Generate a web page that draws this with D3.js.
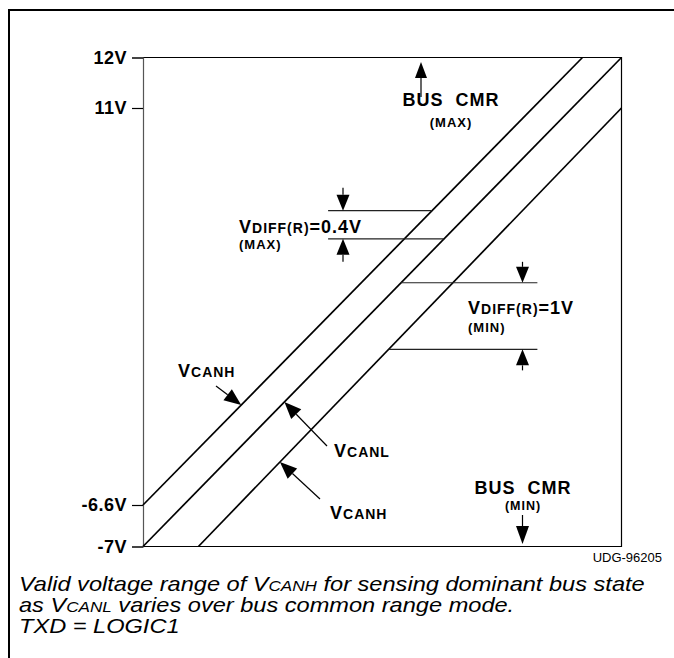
<!DOCTYPE html>
<html>
<head>
<meta charset="UTF-8">
<title>VCANH valid range</title>
<script src="https://d3js.org/d3.v7.min.js"></script>
<style>
	body { margin: 0; background: #fff; }
	text { font-family: "Liberation Sans", Arial, sans-serif; fill: #000; }
	.bold { font-weight: bold; letter-spacing: 1px; }
</style>
</head>
<body>
	<div id="svg-container"></div>
	<script type="text/javascript">

		// tick values and labels on the voltage axis (axis is not to scale)
		let tickValues = [12, 11, -6.6, -7];
		let tickLabels = ["12V", "11V", "-6.6V", "-7V"];

		// the three bus lines, as [VCANL, V] end points
		let lineNames = ["VCANH max", "VCANL", "VCANH min"];
		let lineStart = [[-7, -6.6], [-7, -7], [-4.8, -7]];
		let lineEnd = [[10.45, 12], [12, 12], [12, 11]];

		// horizontal reference levels for the differential voltages
		let diffLevels = [6.45, 5.2, 3.25, 0.3];
		let diffFrom = [0.35, 0.35, null, null];   // null = starts at a line
		let diffTo = [null, null, 8.66, 8.66];     // null = ends at a line
		let diffLine = [0, 1, 1, 2];               // which bus line it meets

		let width = 674, height = 658;

		let svg = d3.select("#svg-container")
			.append("svg")
			.attr("width", width)
			.attr("height", height);

		let x = d3.scaleLinear().domain([-7, 12]).range([143, 621.5]);
		let y = d3.scaleLinear().domain([-7, -6.6, 11, 12]).range([546.5, 505, 108, 57.5]);

		// outer frame (top and left only)
		svg.append("path")
			.attr("d", "M8,10H674M9,10V658")
			.attr("fill", "none")
			.attr("stroke", "#000")
			.attr("stroke-width", 2);

		// plot box
		svg.append("path")
			.attr("d", `M${x(-7)},${y(12)}H${x(12)}V${y(-7)}H${x(-7)}`)
			.attr("fill", "none")
			.attr("stroke", "#000")
			.attr("stroke-width", 1.2);

		// left axis with ticks
		let axis = d3.axisLeft(y)
			.tickValues(tickValues)
			.tickFormat((d, i) => tickLabels[i])
			.tickSize(11)
			.tickPadding(5);

		let gAxis = svg.append("g")
			.attr("transform", `translate(${x(-7)},0)`)
			.call(axis);
		gAxis.select(".domain").attr("stroke", "#555").attr("stroke-width", 1.2);
		gAxis.selectAll(".tick line").attr("stroke", "#000").attr("stroke-width", 1.2);
		gAxis.selectAll(".tick text")
			.style("font-family", "'Liberation Sans', Arial, sans-serif")
			.style("font-weight", "bold")
			.style("font-size", "18px")
			.style("letter-spacing", "0.5px")
			.attr("fill", "#000");

		// bus lines
		let lines = lineNames.map((n, i) => ({ name: n, a: lineStart[i], b: lineEnd[i] }));
		svg.selectAll("line.bus")
			.data(lines)
			.join("line")
			.attr("class", "bus")
			.attr("x1", d => x(d.a[0]))
			.attr("y1", d => y(d.a[1]))
			.attr("x2", d => x(d.b[0]))
			.attr("y2", d => y(d.b[1]))
			.attr("stroke", "#000")
			.attr("stroke-width", 1.7);

		// pixel x of a bus line at pixel height py
		function xOnLine(l, py) {
			let x1 = x(l.a[0]), y1 = y(l.a[1]), x2 = x(l.b[0]), y2 = y(l.b[1]);
			return x1 + (py - y1) * (x2 - x1) / (y2 - y1);
		}

		// reference levels
		let levels = diffLevels.map((v, i) => {
			let py = y(v);
			let xa = diffFrom[i] === null ? xOnLine(lines[diffLine[i]], py) : x(diffFrom[i]);
			let xb = diffTo[i] === null ? xOnLine(lines[diffLine[i]], py) : x(diffTo[i]);
			return { py: py, xa: xa, xb: xb };
		});
		svg.selectAll("line.level")
			.data(levels)
			.join("line")
			.attr("class", "level")
			.attr("x1", d => d.xa)
			.attr("x2", d => d.xb)
			.attr("y1", d => d.py)
			.attr("y2", d => d.py)
			.attr("stroke", "#222")
			.attr("stroke-width", 1.1);

		// arrow with filled head at (x2,y2)
		function arrow(x1, y1, x2, y2, len, w) {
			len = len || 16; w = w || 6.5;
			let dx = x2 - x1, dy = y2 - y1, d = Math.hypot(dx, dy);
			let ux = dx / d, uy = dy / d;
			let bx = x2 - ux * len, by = y2 - uy * len;
			svg.append("line")
				.attr("x1", x1).attr("y1", y1)
				.attr("x2", bx).attr("y2", by)
				.attr("stroke", "#000").attr("stroke-width", 1.2);
			svg.append("path")
				.attr("d", `M${x2},${y2}L${bx - uy * w},${by + ux * w}L${bx + uy * w},${by - ux * w}Z`)
				.attr("fill", "#000");
		}

		// dimension arrows
		let axUp = 343, axLo = 522.5;
		arrow(axUp, levels[0].py - 23, axUp, levels[0].py);
		arrow(axUp, levels[1].py + 23, axUp, levels[1].py);
		arrow(axLo, levels[2].py - 21, axLo, levels[2].py);
		arrow(axLo, levels[3].py + 21, axLo, levels[3].py);

		// small-caps style label: [text, size] pieces
		function label(px, py, parts, anchor) {
			let t = svg.append("text")
				.attr("x", px).attr("y", py)
				.attr("class", "bold")
				.attr("text-anchor", anchor || "start");
			parts.forEach(p => t.append("tspan").attr("font-size", p[1]).text(p[0]));
			return t;
		}

		label(239, 233, [["V", 18], ["DIFF(R)", 14], ["=0.4V", 18]]);
		label(239, 249, [["(MAX)", 13]]);
		label(468, 314, [["V", 18], ["DIFF(R)", 14], ["=1V", 18]]);
		label(468, 332, [["(MIN)", 13]]);

		// BUS CMR max / min
		label(451, 106, [["BUS  CMR", 18]], "middle").attr("xml:space", "preserve");
		label(451, 127, [["(MAX)", 13]], "middle");
		arrow(421, 97, 421, 62, 16, 6);

		label(523, 494, [["BUS  CMR", 18]], "middle").attr("xml:space", "preserve");
		label(523, 510, [["(MIN)", 12.5]], "middle");
		arrow(522.5, 515, 522.5, 544, 18, 6.5);

		// line labels
		label(178, 377, [["V", 18], ["CANH", 14]]);
		arrow(216, 386, xOnLine(lines[0], 405), 405, 17, 7);

		label(334, 457, [["V", 18], ["CANL", 14]]);
		arrow(327, 446, xOnLine(lines[1], 402), 402, 17, 7);

		label(330, 519, [["V", 18], ["CANH", 14]]);
		arrow(320, 499, xOnLine(lines[2], 462), 462, 17, 7);

		// figure id
		svg.append("text")
			.attr("x", 662).attr("y", 562)
			.attr("text-anchor", "end")
			.attr("font-size", 13)
			.text("UDG-96205");

		// caption, stretched sideways so the first line matches the original width
		let captionLines = [
			[["Valid voltage range of V", 20], ["CANH", 14.5], [" for sensing dominant bus state", 20]],
			[["as V", 20], ["CANL", 14.5], [" varies over bus common range mode.", 20]],
			[["TXD = LOGIC1", 20]]
		];
		let sx = 1;
		captionLines.forEach((parts, i) => {
			let g = svg.append("g");
			let t = g.append("text")
				.attr("x", 0).attr("y", 0)
				.attr("font-style", "italic");
			parts.forEach(p => t.append("tspan").attr("font-size", p[1]).text(p[0]));
			if (i === 0) sx = 626 / t.node().getComputedTextLength();
			g.attr("transform", `translate(19,${591 + i * 21}) scale(${sx},1)`);
		});
	</script>
</body>
</html>
